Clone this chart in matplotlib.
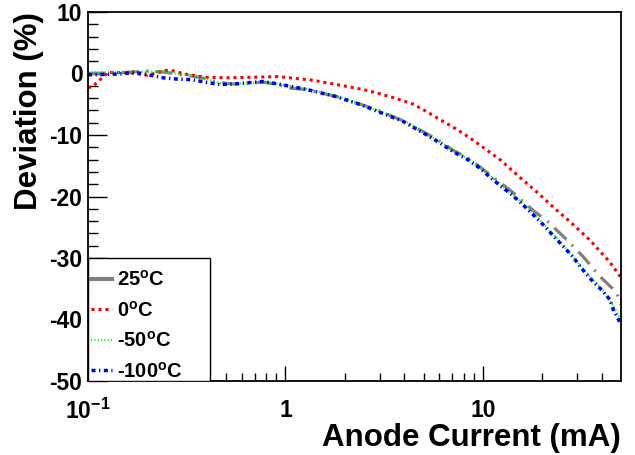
import matplotlib
matplotlib.use('Agg')
import matplotlib.pyplot as plt
from matplotlib.patches import Rectangle
from matplotlib.ticker import FixedLocator, FixedFormatter, MultipleLocator

plt.rcParams['font.family'] = ['Liberation Sans', 'DejaVu Sans']
plt.rcParams['font.weight'] = 'bold'
plt.rcParams['mathtext.fontset'] = 'custom'
plt.rcParams['mathtext.rm'] = 'Liberation Sans:bold'
plt.rcParams['mathtext.it'] = 'Liberation Sans:bold'
plt.rcParams['mathtext.bf'] = 'Liberation Sans:bold'
plt.rcParams['axes.unicode_minus'] = False
plt.rcParams['lines.scale_dashes'] = False

# deviation vs anode current at four temperatures
labels = ['25$^{o}$C', '0$^{o}$C', '-50$^{o}$C', '-100$^{o}$C']

x_25 = [0.1, 0.142, 0.2, 0.245, 0.335, 0.391, 0.466, 0.54, 0.646, 0.769, 0.916,
        1.07, 1.28, 1.95, 2.89, 3.95, 5.19, 6.06, 7.05, 8.27, 9.66, 12.4, 14.0,
        18.0, 21.3, 26.5, 32.2, 39.1, 47.5, 50]
y_25 = [0.0, 0.1, 0.4, 0.2, -0.4, -0.8, -1.5, -1.7, -1.6, -1.4, -1.8,
        -2.4, -2.6, -4.0, -5.9, -7.7, -9.8, -11.0, -12.5, -13.6, -15.2, -17.9, -19.2,
        -22.3, -24.1, -27.0, -29.8, -33.0, -35.6, -37.6]

x_0 = [0.1, 0.104, 0.112, 0.126, 0.163, 0.2, 0.245, 0.265, 0.31, 0.391, 0.512,
       0.7, 0.916, 1.38, 2.04, 2.47, 3.01, 3.66, 4.44, 5.19, 6.06, 7.21, 8.62,
       10.2, 12.2, 15.4, 19.4, 23.0, 27.6, 34.8, 44.0, 50]
y_0 = [-2.3, -2.2, -1.4, 0.2, 0.1, -0.3, 0.5, 0.5, -0.1, -0.6, -0.7,
       -0.6, -0.5, -1.1, -2.1, -2.6, -3.3, -4.1, -5.0, -6.2, -7.5, -8.9, -10.5,
       -12.2, -14.0, -16.9, -19.7, -21.9, -24.1, -27.1, -30.7, -33.2]

x_m50 = [0.1, 0.142, 0.173, 0.24, 0.31, 0.377, 0.455, 0.512, 0.675, 0.815, 0.99,
         1.28, 1.78, 2.47, 3.95, 5.19, 6.06, 8.27, 9.66, 12.4, 16.0, 20.2, 25.5,
         31.6, 39.9, 45.7, 50]
y_m50 = [0.2, 0.2, 0.3, 0.3, -0.2, -0.6, -1.5, -1.8, -1.5, -1.5, -1.9,
         -2.5, -3.6, -5.1, -7.6, -9.8, -11.1, -13.7, -15.2, -18.2, -21.2, -24.4, -27.9,
         -31.5, -35.0, -37.8, -40.0]

x_m100 = [0.1, 0.104, 0.142, 0.173, 0.201, 0.240, 0.281, 0.335, 0.391, 0.466, 0.555,
          0.646, 0.769, 0.916, 1.28, 1.78, 2.47, 2.89, 3.95, 5.19, 6.06, 7.05, 8.27,
          9.66, 10.8, 12.4, 14.0, 16.0, 18.0, 20.2, 22.7, 25.5, 28.7, 31.6, 35.5,
          39.9, 44.0, 45.7, 50]
y_m100 = [-0.2, -0.2, -0.1, 0.2, -0.2, -0.7, -0.9, -1.0, -1.4, -1.8, -1.7,
          -1.5, -1.3, -1.7, -2.6, -3.7, -5.2, -6.1, -7.8, -10.0, -11.3, -12.7, -13.9,
          -15.4, -16.8, -18.4, -19.7, -21.4, -23.0, -24.6, -26.4, -28.1, -29.9, -31.7, -33.6,
          -35.2, -36.8, -38.4, -40.8]

x_ticks = [0.1, 1, 10]
x_ticklabels = ['$10^{-1}$', '1', '10']

fig = plt.figure(figsize=(6.35, 4.55), dpi=100)
ax = fig.add_axes([88/635, 74/455, 533/635, 369/455])

l1, = ax.plot(x_25, y_25, color='#808080', lw=2.3, dashes=(12, 5.5, 1.4, 5.5))
l2, = ax.plot(x_0, y_0, color='#ff0000', lw=2.2, dashes=(2.2, 2.8))
l3, = ax.plot(x_m50, y_m50, color='#00ff00', lw=1.6, dashes=(0.8, 1.6))
l4, = ax.plot(x_m100, y_m100, color='#0000ff', lw=2.5, dashes=(2.9, 2.5, 1.0, 2.5))

ax.set_xscale('log')
ax.set_xlim(0.1, 50)
ax.set_ylim(-50, 10)

ax.xaxis.set_major_locator(FixedLocator(x_ticks))
ax.xaxis.set_major_formatter(FixedFormatter(x_ticklabels))
minors = [m * d for d in [0.1, 1, 10] for m in range(2, 10) if m * d < 50]
ax.xaxis.set_minor_locator(FixedLocator(minors))
ax.xaxis.set_minor_formatter(FixedFormatter([''] * len(minors)))
ax.yaxis.set_major_locator(MultipleLocator(10))
ax.yaxis.set_minor_locator(MultipleLocator(2))

ax.tick_params(which='both', direction='in', top=False, right=False, width=1)
ax.tick_params(axis='x', which='major', length=11, labelsize=16.5, pad=13)
ax.tick_params(axis='x', which='minor', length=6)
ax.tick_params(axis='y', which='major', length=14, labelsize=16.5, pad=4)
ax.tick_params(axis='y', which='minor', length=7)
for s in ax.spines.values():
    s.set_linewidth(1.3)

ax.set_xlabel('Anode Current (mA)', fontsize=22.5, fontweight='bold', loc='right')
ax.xaxis.set_label_coords(1.0, -0.113)
ax.set_ylabel('Deviation (%)', fontsize=22.5, fontweight='bold', loc='top')
ax.yaxis.set_label_coords(-0.083, 1.0)

# legend box in the lower left corner
ax.add_patch(Rectangle((0, 0), 0.229, 0.333, transform=ax.transAxes,
                       facecolor='white', edgecolor='black', lw=1.0, zorder=4))
leg = ax.legend([l1, l2, l3, l4], labels, loc='upper left',
                bbox_to_anchor=(0.006, 0.301), borderaxespad=0, borderpad=0,
                frameon=False, fontsize=14.5, handlelength=1.05,
                handletextpad=0.25, labelspacing=0.52)
leg.set_zorder(5)
leg.legend_handles[0].set_linestyle('-')
leg.legend_handles[0].set_linewidth(3)

fig.savefig('out.png', dpi=100)
